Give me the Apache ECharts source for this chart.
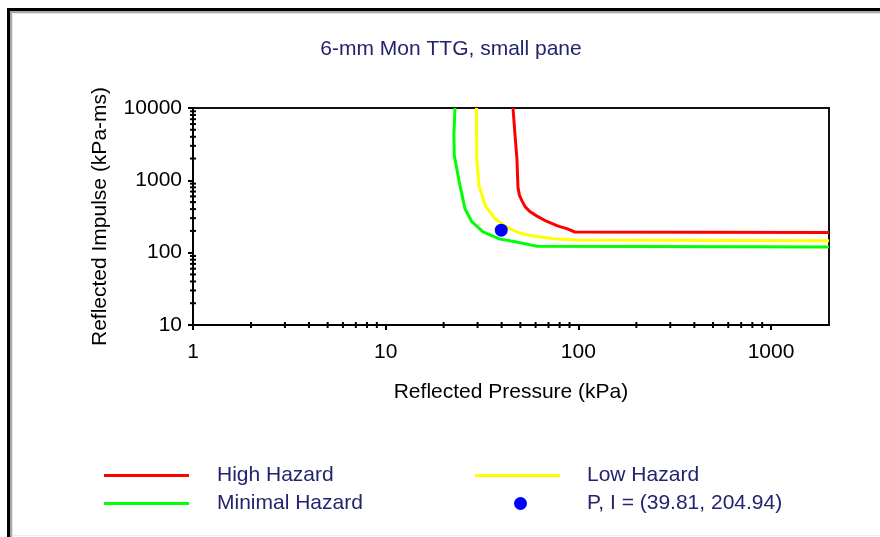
<!DOCTYPE html>
<html>
<head>
<meta charset="utf-8">
<script src="https://cdn.jsdelivr.net/npm/echarts@6/dist/echarts.min.js"></script>
<style>
html, body { margin: 0; padding: 0; background: #fff; }
#chart { width: 880px; height: 537px; }
</style>
</head>
<body>
<div id="chart"></div>
<script>
const titleText = '6-mm Mon TTG, small pane'
// [pressure kPa, impulse kPa-ms]
const highHazard = [[45.8, 10000], [46.9, 4300], [48, 2000], [48.6, 800], [49.5, 620], [51, 520], [53, 430], [56, 370], [61, 320], [68.7, 270], [78, 235], [87, 215], [96, 193], [2000, 190]]
const lowHazard = [[29.6, 10000], [29.7, 2000], [30.5, 850], [32.8, 450], [36.9, 295], [44.2, 213], [50, 185], [58, 170], [75, 156], [98, 150], [2000, 146]]
const minimalHazard = [[22.9, 10000], [22.6, 4300], [22.7, 2200], [24.3, 850], [25.8, 405], [28, 268], [32, 194], [39.2, 154], [48, 140], [61, 123], [2000, 120]]
const testPoint = [[39.81, 204.94]]
const pointLabel = 'P, I = (39.81, 204.94)'

// minor tick positions for the log axes
const xMinor = [2, 3, 4, 5, 6, 7, 8, 9, 20, 30, 40, 50, 60, 70, 80, 90, 200, 300, 400, 500, 600, 700, 800, 900]
const yMinor = [20, 30, 40, 50, 60, 70, 80, 90, 200, 300, 400, 500, 600, 700, 800, 900, 2000, 3000, 4000, 5000, 6000, 7000, 8000, 9000]

const navy = '#23236e'
const font = 'Liberation Sans, Arial, sans-serif'
const fs = 21

const chart = echarts.init(document.getElementById('chart'), null, { renderer: 'canvas' })

const lineSeries = (name, data, color) => ({
	name: name,
	type: 'line',
	data: data,
	showSymbol: false,
	symbol: 'none',
	lineStyle: { color: color, width: 3 },
	itemStyle: { color: color },
	z: 3,
})

const legendBase = (name, left, top, icon, iconW, iconH, pad) => ({
	data: [{ name: name, icon: icon }],
	left: left,
	top: top,
	itemWidth: iconW,
	itemHeight: iconH,
	selectedMode: false,
	textStyle: { color: navy, fontSize: fs, fontFamily: font, padding: [0, 0, 0, pad] },
})

chart.setOption({
	animation: false,
	title: {
		text: titleText,
		left: 446,
		textAlign: 'center',
		top: 34,
		textStyle: { color: navy, fontSize: fs, fontWeight: 'normal', fontFamily: font },
	},
	grid: {
		left: 193,
		top: 108,
		right: 51,
		bottom: 212,
		show: true,
		borderColor: '#111',
		borderWidth: 2,
		backgroundColor: 'transparent',
	},
	xAxis: {
		type: 'log',
		logBase: 10,
		min: 1,
		max: 2000,
		name: 'Reflected Pressure (kPa)',
		nameLocation: 'middle',
		nameGap: 57,
		nameTextStyle: { color: '#000', fontSize: fs, fontFamily: font },
		axisLine: { lineStyle: { color: '#000', width: 2 } },
		axisTick: { show: true, length: 5, lineStyle: { color: '#000', width: 2 } },
		axisLabel: { color: '#000', fontSize: fs, fontFamily: font, margin: 17, showMaxLabel: false, formatter: v => String(v) },
		splitLine: { show: false },
		minorTick: { show: false },
	},
	yAxis: {
		type: 'log',
		logBase: 10,
		min: 10,
		max: 10000,
		name: 'Reflected Impulse (kPa-ms)',
		nameLocation: 'middle',
		nameGap: 82,
		nameTextStyle: { color: '#000', fontSize: fs, fontFamily: font },
		axisLine: { lineStyle: { color: '#000', width: 2 } },
		axisTick: { show: true, length: 5, lineStyle: { color: '#000', width: 2 } },
		axisLabel: { color: '#000', fontSize: fs, fontFamily: font, margin: 11, formatter: v => String(v) },
		splitLine: { show: false },
	},
	legend: [
		legendBase('High Hazard', 99, 460, 'rect', 85, 3, 23),
		legendBase('Minimal Hazard', 99, 488, 'rect', 85, 3, 23),
		legendBase('Low Hazard', 470, 460, 'rect', 85, 3, 22),
		legendBase(pointLabel, 509, 488, 'circle', 13, 13, 55),
	],
	graphic: [
		{ type: 'rect', shape: { x: 7, y: 8, width: 873, height: 3 }, style: { fill: '#000' }, silent: true },
		{ type: 'rect', shape: { x: 7, y: 8, width: 3, height: 529 }, style: { fill: '#000' }, silent: true },
		{ type: 'rect', shape: { x: 10, y: 11, width: 870, height: 2 }, style: { fill: '#a8a8a8' }, silent: true },
		{ type: 'rect', shape: { x: 10, y: 11, width: 2, height: 526 }, style: { fill: '#a8a8a8' }, silent: true },
		{ type: 'rect', shape: { x: 12, y: 13, width: 868, height: 1 }, style: { fill: '#e4e4e4' }, silent: true },
		{ type: 'rect', shape: { x: 12, y: 13, width: 1, height: 524 }, style: { fill: '#e4e4e4' }, silent: true },
		{ type: 'rect', shape: { x: 12, y: 535, width: 868, height: 1 }, style: { fill: '#ececec' }, silent: true },
	],
	series: [
		lineSeries('High Hazard', highHazard, '#ff0000'),
		lineSeries('Low Hazard', lowHazard, '#ffff00'),
		lineSeries('Minimal Hazard', minimalHazard, '#00ff00'),
		{
			name: pointLabel,
			type: 'scatter',
			data: testPoint,
			symbol: 'circle',
			symbolSize: 13,
			itemStyle: { color: '#0000ff', opacity: 1 },
			z: 4,
		},
		{
			name: 'xMinorTicks',
			type: 'scatter',
			data: xMinor.map(v => [v, 10]),
			symbol: 'rect',
			symbolSize: [2, 6],
			itemStyle: { color: '#000', opacity: 1 },
			silent: true,
			clip: false,
			z: 5,
		},
		{
			name: 'yMinorTicks',
			type: 'scatter',
			data: yMinor.map(v => [1, v]),
			symbol: 'rect',
			symbolSize: [6, 2],
			itemStyle: { color: '#000', opacity: 1 },
			silent: true,
			clip: false,
			z: 5,
		},
	],
})
</script>
</body>
</html>
